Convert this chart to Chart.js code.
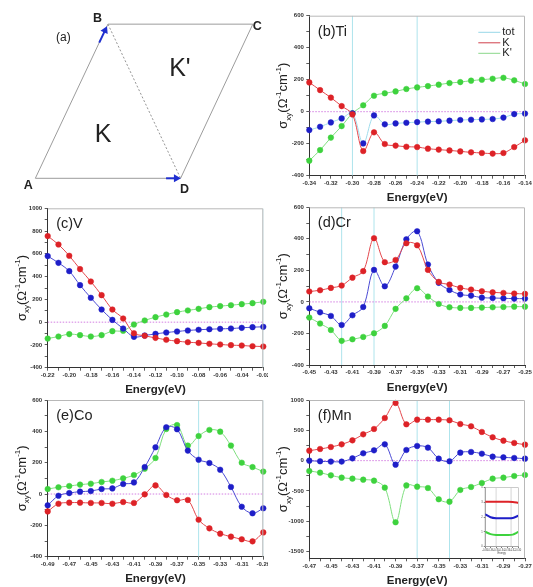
<!DOCTYPE html>
<html>
<head>
<meta charset="utf-8">
<script src="https://cdn.jsdelivr.net/npm/chart.js@4.4.0/dist/chart.umd.min.js"></script>
<style>
body{margin:0;background:#fff;width:533px;height:587px;position:relative;overflow:hidden}
canvas{position:absolute}
</style>
</head>
<body>
<canvas id="pin"></canvas>
<canvas id="pa"></canvas>
<canvas id="pb"></canvas>
<canvas id="pc"></canvas>
<canvas id="pd"></canvas>
<canvas id="pe"></canvas>
<canvas id="pf"></canvas>
<script>
// ---- datos ----
// (a) zona de Brillouin
const aA=[30.7,183.3], aB=[106.7,19.3], aC=[258.3,19.3], aD=[182.7,183.3]
const aLetras=['A','B','C','D']

// (b) Ti
const tiE=[-0.34,-0.33,-0.32,-0.31,-0.30,-0.29,-0.28,-0.27,-0.26,-0.25,-0.24,-0.23,-0.22,-0.21,-0.20,-0.19,-0.18,-0.17,-0.16,-0.15,-0.14]
const tiTot=[-115,-94,-67,-42,-10,-198,-23,-79,-73,-69,-65,-62,-60,-56,-52,-50,-48,-46,-37,-15,-12]
const tiK=[183,135,88,35,-17,-246,-129,-202,-212,-219,-221,-231,-237,-242,-248,-254,-258,-262,-258,-221,-179]
const tiKp=[-306,-240,-162,-90,-10,40,100,115,127,142,152,160,169,179,185,194,200,206,212,196,173]
const tiY=[-400,-200,0,200,400,600]
const tiX=[-0.34,-0.32,-0.30,-0.28,-0.26,-0.24,-0.22,-0.20,-0.18,-0.16,-0.14]
const tiV=[-0.30,-0.24]

// (c) V
const vE=[-0.22,-0.21,-0.20,-0.19,-0.18,-0.17,-0.16,-0.15,-0.14,-0.13,-0.12,-0.11,-0.10,-0.09,-0.08,-0.07,-0.06,-0.05,-0.04,-0.03,-0.02]
const vTot=[580,521,448,325,214,111,20,-56,-129,-117,-103,-91,-82,-73,-67,-62,-59,-56,-50,-44,-41]
const vK=[756,682,583,466,357,237,111,32,-97,-120,-138,-155,-167,-176,-182,-190,-196,-202,-205,-211,-214]
const vKp=[-144,-126,-105,-114,-126,-114,-79,-76,-21,15,44,67,88,103,117,132,141,149,158,167,179]
const vY=[-400,-200,0,200,400,600,800,1000]
const vX=[-0.22,-0.20,-0.18,-0.16,-0.14,-0.12,-0.10,-0.08,-0.06,-0.04,-0.02]
const vV=[-0.02]

// (d) Cr
const crE=[-0.45,-0.44,-0.43,-0.42,-0.41,-0.40,-0.39,-0.38,-0.37,-0.36,-0.35,-0.34,-0.33,-0.32,-0.31,-0.30,-0.29,-0.28,-0.27,-0.26,-0.25]
const crTot=[-40,-66,-89,-146,-85,-32,203,99,224,397,448,237,121,76,47,40,27,25,23,21,21]
const crK=[66,74,89,104,154,195,404,252,266,372,359,203,127,110,89,78,68,61,57,53,51]
const crKp=[-99,-137,-178,-247,-237,-222,-199,-152,-44,23,87,34,-13,-34,-38,-38,-36,-34,-32,-30,-30]
const crY=[-400,-200,0,200,400,600]
const crX=[-0.45,-0.43,-0.41,-0.39,-0.37,-0.35,-0.33,-0.31,-0.29,-0.27,-0.25]
const crV=[-0.42,-0.39]

// (e) Co
const coE=[-0.49,-0.48,-0.47,-0.46,-0.45,-0.44,-0.43,-0.42,-0.41,-0.40,-0.39,-0.38,-0.37,-0.36,-0.35,-0.34,-0.33,-0.32,-0.31,-0.30,-0.29]
const coTot=[-72,-11,6,15,19,32,36,64,74,172,298,426,413,277,219,198,155,45,-81,-123,-91]
const coK=[-111,-62,-55,-55,-57,-57,-62,-51,-57,-2,55,-6,-40,-38,-164,-219,-253,-272,-289,-302,-245]
const coKp=[32,43,51,60,66,77,85,100,121,162,230,415,440,309,370,409,398,309,200,172,143]
const coY=[-400,-200,0,200,400,600]
const coX=[-0.49,-0.47,-0.45,-0.43,-0.41,-0.39,-0.37,-0.35,-0.33,-0.31,-0.29]
const coV=[-0.35,-0.29]

// (f) Mn
const mnE=[-0.47,-0.46,-0.45,-0.44,-0.43,-0.42,-0.41,-0.40,-0.39,-0.38,-0.37,-0.36,-0.35,-0.34,-0.33,-0.32,-0.31,-0.30,-0.29,-0.28,-0.27]
const mnTot=[0,-11,-16,-16,38,121,170,269,-66,176,242,214,33,-11,132,143,115,66,55,44,33]
const mnK=[165,192,225,269,335,434,522,703,951,599,676,676,676,665,604,566,473,385,330,291,264]
const mnKp=[-170,-198,-242,-280,-297,-313,-330,-445,-1016,-408,-429,-451,-637,-676,-483,-434,-368,-297,-280,-253,-236]
const mnY=[-1500,-1000,-500,0,500,1000]
const mnX=[-0.47,-0.45,-0.43,-0.41,-0.39,-0.37,-0.35,-0.33,-0.31,-0.29,-0.27]
const mnV=[-0.37,-0.34]

// recuadro dentro de (f)
const inX=[0,1,2,3,4,5,6]
const inK=[3.05,3.05,3.05,3.04,3.04,3.03,2.98]
const inTot=[2.2,2.0,1.93,1.93,1.93,1.95,2.1]
const inKp=[1.02,0.85,0.79,0.79,0.79,0.82,1.0]
const inY=[0,1,2,3,4]
const inXLab=['-0.38','-0.36','-0.35','-0.34','-0.33','-0.32','-0.30']

const nombres=['tot','K',"K'"]

// ---- estilos ----
const FONT='"Liberation Sans", Arial, sans-serif'
const ROJO='#dd2227', ROJO_L='#e4474c'
const VERDE='#3ed23e', VERDE_L='#7fdf7f'
const AZUL='#1e1ec8', AZUL_L='#4b4bd4'
const CIAN='#aee4ec'
const YW=30, XH=14

function pos(id,box){
    const cv=document.getElementById(id)
    cv.width=box.w; cv.height=box.h
    cv.style.left=box.left+'px'; cv.style.top=box.top+'px'
    cv.style.width=box.w+'px'; cv.style.height=box.h+'px'
    return cv
}

function sinPad(s){ s.paddingLeft=0; s.paddingRight=0; s.paddingTop=0; s.paddingBottom=0 }

function pares(E,v){ return E.map((e,i)=>({x:e,y:v[i]})) }

function tituloY(ctx,cx,cy){
    const partes=[['σ',13,4.5],['xy',8,8],['(Ω',13,4.5],['-1',8,-1.5],['cm',13,4.5],['-1',8,-1.5],[')',13,4.5]]
    ctx.save()
    ctx.translate(cx,cy)
    ctx.rotate(-Math.PI/2)
    let total=0
    partes.forEach(p=>{ ctx.font=p[1]+'px '+FONT; total+=ctx.measureText(p[0]).width })
    let x=-total/2
    ctx.fillStyle='#222'
    ctx.textBaseline='alphabetic'
    partes.forEach(p=>{
        ctx.font=p[1]+'px '+FONT
        ctx.fillText(p[0],x,p[2])
        x+=ctx.measureText(p[0]).width
    })
    ctx.restore()
}

function panel(cfg){
    const cv=pos(cfg.id,cfg.box)
    const b=cfg.box, a=cfg.area
    const ymin=cfg.ymin, ymax=cfg.ymax
    const E=cfg.E
    // marcas menores entre etiquetas
    let yTodas=[]
    cfg.yLab.forEach((v,i)=>{
        yTodas.push(v)
        if(i<cfg.yLab.length-1) yTodas.push((v+cfg.yLab[i+1])/2)
    })
    if(cfg.yLab[0]-(cfg.yLab[1]-cfg.yLab[0])/2>ymin) yTodas.unshift(cfg.yLab[0]-(cfg.yLab[1]-cfg.yLab[0])/2)

    const serie=(vals,col,linea)=>({
        data:pares(E,vals), showLine:true, borderColor:linea, borderWidth:1,
        backgroundColor:col, pointBackgroundColor:col, pointBorderColor:col,
        pointRadius:2.8, pointBorderWidth:0.5, tension:0.35, clip:false
    })
    const datasets=[
        serie(cfg.K,ROJO,ROJO_L),
        serie(cfg.tot,AZUL,cfg.totLinea||AZUL_L),
        serie(cfg.Kp,VERDE,VERDE_L)
    ]
    datasets.push({data:[{x:E[0],y:0},{x:E[E.length-1],y:0}],showLine:true,borderColor:'#d47fe2',
        borderWidth:1,borderDash:[1.5,1.5],pointRadius:0})
    cfg.vl.forEach(v=>{
        datasets.push({data:[{x:v,y:ymin},{x:v,y:ymax}],showLine:true,borderColor:CIAN,borderWidth:1,pointRadius:0})
    })

    const deco={
        id:'deco'+cfg.id,
        afterDraw(chart){
            const ctx=chart.ctx, ca=chart.chartArea
            ctx.save()
            ctx.strokeStyle='#b8b8b8'; ctx.lineWidth=1
            ctx.beginPath()
            ctx.moveTo(ca.left,ca.top+0.5); ctx.lineTo(ca.right-0.5,ca.top+0.5); ctx.lineTo(ca.right-0.5,ca.bottom)
            ctx.stroke()
            // etiqueta del panel
            ctx.fillStyle='#222'
            ctx.font='14.5px '+FONT
            ctx.textBaseline='middle'; ctx.textAlign='left'
            ctx.fillText(cfg.label,ca.left+8.5,ca.top+16)
            // titulo x
            ctx.font='bold 11.5px '+FONT
            ctx.textAlign='center'
            ctx.fillText('Energy(eV)',(ca.left+ca.right)/2,ca.bottom+22.5)
            ctx.restore()
            tituloY(ctx,ca.left-26.5,(ca.top+ca.bottom)/2)
            if(cfg.leyenda){
                const cols=['#98d8e8','#d0404c','#8ad88a']
                ctx.save()
                ctx.font='11px '+FONT
                ctx.textBaseline='middle'; ctx.textAlign='left'
                nombres.forEach((n,i)=>{
                    const y=ca.top+16.6+i*10.5
                    ctx.strokeStyle=cols[i]; ctx.lineWidth=1
                    ctx.beginPath(); ctx.moveTo(ca.left+169,y); ctx.lineTo(ca.left+191,y); ctx.stroke()
                    ctx.fillStyle='#222'
                    ctx.fillText(n,ca.left+193,y)
                })
                ctx.restore()
            }
        }
    }

    const fTick={family:FONT,size:6,weight:'bold'}
    new Chart(cv,{
        type:'scatter',
        data:{datasets:datasets},
        options:{
            responsive:false, animation:false, events:[],
            layout:{padding:{left:a.l-b.left-YW, top:a.t-b.top, right:b.left+b.w-a.r, bottom:b.top+b.h-a.b-XH}},
            plugins:{legend:{display:false},tooltip:{enabled:false}},
            scales:{
                x:{type:'linear',min:E[0],max:E[E.length-1],
                    afterBuildTicks:s=>{ s.ticks=E.map(v=>({value:v})) },
                    afterFit:s=>{ s.height=XH; sinPad(s) },
                    ticks:{autoSkip:false,maxRotation:0,font:fTick,color:'#333',padding:1,
                        callback:v=>cfg.xLab.some(l=>Math.abs(l-v)<1e-6)?v.toFixed(2):''},
                    grid:{drawOnChartArea:false,tickLength:3,color:'#333',tickWidth:0.8},
                    border:{color:'#333',width:1}
                },
                y:{type:'linear',min:ymin,max:ymax,
                    afterBuildTicks:s=>{ s.ticks=yTodas.map(v=>({value:v})) },
                    afterFit:s=>{ s.width=YW; sinPad(s) },
                    ticks:{autoSkip:false,font:fTick,color:'#333',padding:2.5,
                        callback:v=>cfg.yLab.includes(v)?String(v):''},
                    grid:{drawOnChartArea:false,tickLength:3,color:'#333',tickWidth:0.8},
                    border:{color:'#333',width:1}
                }
            }
        },
        plugins:[deco]
    })
}

// ---- (a) ----
function panelA(){
    const cv=pos('pa',{left:0,top:0,w:270,h:200})
    const contorno={data:[aA,aB,aC,aD,aA].map(p=>({x:p[0],y:p[1]})),showLine:true,borderColor:'#9c9c9c',
        borderWidth:1,pointRadius:0,tension:0,clip:false}
    const diag={data:[aB,aD].map(p=>({x:p[0],y:p[1]})),showLine:true,borderColor:'#7a7a7a',
        borderWidth:0.8,borderDash:[2,2],pointRadius:0,clip:false}
    // flechas azules
    const fB={data:[{x:aA[0]+(aB[0]-aA[0])*0.88,y:aA[1]+(aB[1]-aA[1])*0.88},{x:aA[0]+(aB[0]-aA[0])*0.96,y:aA[1]+(aB[1]-aA[1])*0.96}],
        showLine:true,borderColor:'#1f2fd0',borderWidth:2,pointRadius:[0,2.6],pointStyle:'triangle',
        pointRotation:25,pointBackgroundColor:'#1f2fd0',pointBorderColor:'#1f2fd0',clip:false}
    const fD={data:[{x:aA[0]+(aD[0]-aA[0])*0.9,y:aA[1]},{x:aA[0]+(aD[0]-aA[0])*0.97,y:aA[1]}],
        showLine:true,borderColor:'#1f2fd0',borderWidth:2,pointRadius:[0,2.6],pointStyle:'triangle',
        pointRotation:90,pointBackgroundColor:'#1f2fd0',pointBorderColor:'#1f2fd0',clip:false}
    const textos={
        id:'textosA',
        afterDraw(chart){
            const ctx=chart.ctx, sx=chart.scales.x, sy=chart.scales.y
            const P=(x,y)=>[sx.getPixelForValue(x),sy.getPixelForValue(y)]
            ctx.save()
            ctx.fillStyle='#222'; ctx.textAlign='center'; ctx.textBaseline='middle'
            ctx.font='bold 12.5px '+FONT
            const offs=[[-7.5,7.4],[-11,-6],[4.7,2.4],[4,11.7]]
            ;[aA,aB,aC,aD].forEach((p,i)=>{
                const q=P(p[0]+offs[i][0],p[1]+offs[i][1])
                ctx.fillText(aLetras[i],q[0],q[1])
            })
            ctx.font='12px '+FONT
            let q=P(60,33.5); ctx.fillText('(a)',q[0],q[1])
            ctx.font='25px '+FONT
            q=P(182,67.5); ctx.fillText("K'",q[0],q[1])
            q=P(101.5,137.5); ctx.fillText('K',q[0],q[1])
            ctx.restore()
        }
    }
    new Chart(cv,{
        type:'scatter',
        data:{datasets:[fB,fD,contorno,diag]},
        options:{
            responsive:false,animation:false,events:[],
            layout:{padding:0},
            plugins:{legend:{display:false},tooltip:{enabled:false}},
            scales:{
                x:{type:'linear',min:0,max:270,display:false},
                y:{type:'linear',min:0,max:200,reverse:true,display:false}
            }
        },
        plugins:[textos]
    })
}

// ---- recuadro ----
function panelInset(){
    const box={left:468,top:483,w:62,h:76}
    const a={l:485,t:487.7,r:518.3,b:546.7}
    const cv=pos('pin',box)
    const s=(v,c)=>({data:pares(inX,v),showLine:true,borderColor:c,borderWidth:2,pointRadius:0,tension:0.3})
    const ds=[s(inK,ROJO),s(inTot,AZUL),s(inKp,VERDE)]
    ;[2,4.7].forEach(v=>ds.push({data:[{x:v,y:0},{x:v,y:4}],showLine:true,borderColor:'#bbb',borderWidth:0.6,pointRadius:0}))
    const f={family:FONT,size:2.6}
    const caja={
        id:'cajaIn',
        afterDraw(chart){
            const ctx=chart.ctx, ca=chart.chartArea
            ctx.save()
            ctx.strokeStyle='#aaa'; ctx.lineWidth=0.6
            ctx.strokeRect(ca.left,ca.top,ca.right-ca.left,ca.bottom-ca.top)
            ctx.fillStyle='#444'; ctx.font='2.6px '+FONT; ctx.textAlign='center'
            ctx.fillText('Energy',(ca.left+ca.right)/2,ca.bottom+7.5)
            ctx.restore()
        }
    }
    new Chart(cv,{
        type:'scatter',
        data:{datasets:ds},
        options:{
            responsive:false,animation:false,events:[],
            layout:{padding:{left:a.l-box.left-8,top:a.t-box.top,right:box.left+box.w-a.r,bottom:box.top+box.h-a.b-8}},
            plugins:{legend:{display:false},tooltip:{enabled:false}},
            scales:{
                x:{type:'linear',min:0,max:6,
                    afterBuildTicks:s=>{ s.ticks=inX.map(v=>({value:v})) },
                    afterFit:s=>{ s.height=8; sinPad(s) },
                    ticks:{autoSkip:false,maxRotation:0,font:f,color:'#444',padding:0.5,callback:(v,i)=>inXLab[i]},
                    grid:{drawOnChartArea:false,tickLength:1.2,color:'#666'},border:{color:'#666',width:0.6}},
                y:{type:'linear',min:0,max:4,
                    afterBuildTicks:s=>{ s.ticks=inY.map(v=>({value:v})) },
                    afterFit:s=>{ s.width=8; sinPad(s) },
                    ticks:{font:f,color:'#444',padding:1},
                    grid:{drawOnChartArea:false,tickLength:1.2,color:'#666'},border:{color:'#666',width:0.6}}
            }
        },
        plugins:[caja]
    })
}

panelA()
panel({id:'pb',box:{left:268,top:0,w:265,h:205},area:{l:309.3,t:15.7,r:525,b:175.7},
    E:tiE,tot:tiTot,K:tiK,Kp:tiKp,ymin:-400,ymax:600,yLab:tiY,xLab:tiX,vl:tiV,label:'(b)Ti',
    totLinea:'#9fdcec',leyenda:true})
panel({id:'pc',box:{left:0,top:195,w:268,h:200},area:{l:47.7,t:208.3,r:263.3,b:367.7},
    E:vE,tot:vTot,K:vK,Kp:vKp,ymin:-400,ymax:1000,yLab:vY,xLab:vX,vl:vV,label:'(c)V'})
panel({id:'pd',box:{left:268,top:195,w:265,h:200},area:{l:309.3,t:207.3,r:525,b:365},
    E:crE,tot:crTot,K:crK,Kp:crKp,ymin:-400,ymax:600,yLab:crY,xLab:crX,vl:crV,label:'(d)Cr'})
panel({id:'pe',box:{left:0,top:390,w:268,h:197},area:{l:47.7,t:400,r:263.3,b:556.7},
    E:coE,tot:coTot,K:coK,Kp:coKp,ymin:-400,ymax:600,yLab:coY,xLab:coX,vl:coV,label:'(e)Co'})
panel({id:'pf',box:{left:268,top:390,w:265,h:197},area:{l:309.3,t:400,r:525,b:558.3},
    E:mnE,tot:mnTot,K:mnK,Kp:mnKp,ymin:-1610,ymax:1000,yLab:mnY,xLab:mnX,vl:mnV,label:'(f)Mn'})
panelInset()
</script>
</body>
</html>
